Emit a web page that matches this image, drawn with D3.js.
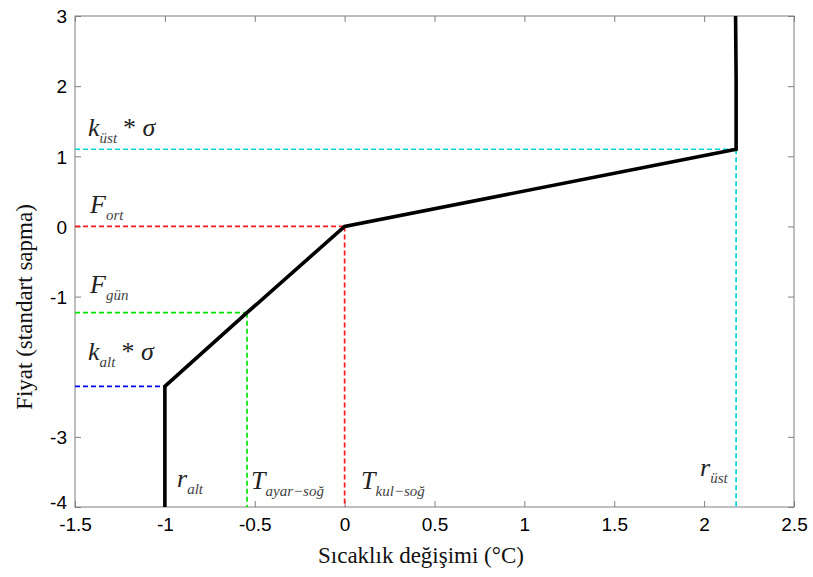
<!DOCTYPE html>
<html>
<head>
<meta charset="utf-8">
<script src="https://cdn.jsdelivr.net/npm/d3@7"></script>
<style>
body{margin:0;background:#fff;}
svg{display:block;}
</style>
</head>
<body>
<div id="chart"></div>
<script>
var W = 813, H = 577;
var margin = {left:75, right:19, top:16, bottom:70};

// data
var xTicks = [-1.5, -1, -0.5, 0, 0.5, 1, 1.5, 2, 2.5];
var yTicks = [-4, -3, -1, 0, 1, 2, 3];
var curveX = [-1, -1, -0.543, 0, 2.178, 2.178, 2.175];
var curveY = [-4, -2.28, -1.23, 0, 1.1, 2.1, 3];
// guide lines: level y, x where it meets the curve, colour
var guideY = [0, -1.23, -2.28, 1.1];
var guideX = [0, -0.543, -1, 2.178];
var guideDrop = [true, true, false, true];
var guideColor = ["#ff1a1a", "#00e600", "#0000ff", "#00d5d5"];

var svg = d3.select("#chart").append("svg")
    .attr("width", W).attr("height", H);

var x = d3.scaleLinear().domain([-1.5, 2.5]).range([margin.left, W - margin.right]);
var y = d3.scaleLinear().domain([-4, 3]).range([H - margin.bottom, margin.top]);

var axisCol = "#808080";

// box
svg.append("rect")
    .attr("x", x(-1.5)).attr("y", y(3))
    .attr("width", x(2.5) - x(-1.5)).attr("height", y(-4) - y(3))
    .attr("fill", "none").attr("stroke", axisCol).attr("stroke-width", 1);

// axes (ticks point inward, mirrored on top/right)
var fmt = function(d){ return String(d); };
var gx = svg.append("g").attr("transform", "translate(0," + y(-4) + ")")
    .call(d3.axisBottom(x).tickValues(xTicks).tickFormat(fmt).tickSize(-6).tickPadding(11));
var gxt = svg.append("g").attr("transform", "translate(0," + y(3) + ")")
    .call(d3.axisTop(x).tickValues(xTicks).tickFormat("").tickSize(-6));
var gy = svg.append("g").attr("transform", "translate(" + x(-1.5) + ",0)")
    .call(d3.axisLeft(y).tickValues(yTicks).tickFormat(fmt).tickSize(-6).tickPadding(8));
var gyr = svg.append("g").attr("transform", "translate(" + x(2.5) + ",0)")
    .call(d3.axisRight(y).tickValues(yTicks).tickFormat("").tickSize(-6));

[gx, gxt, gy, gyr].forEach(function(g){
    g.select(".domain").remove();
    g.selectAll(".tick line").attr("stroke", axisCol);
    g.selectAll(".tick text")
        .attr("fill", "#000")
        .style("font-family", "'Liberation Sans', Arial, sans-serif")
        .style("font-size", "19px");
});
gy.selectAll(".tick text").attr("dy", function(d){ return d === -4 ? "0.1em" : "0.36em"; });

// dashed guides
guideY.forEach(function(v, i){
    svg.append("line")
        .attr("x1", x(-1.5)).attr("x2", x(guideX[i]))
        .attr("y1", y(v)).attr("y2", y(v))
        .attr("stroke", guideColor[i]).attr("stroke-width", 1.7)
        .attr("stroke-dasharray", "5,3");
    if (guideDrop[i]) {
        svg.append("line")
            .attr("x1", x(guideX[i])).attr("x2", x(guideX[i]))
            .attr("y1", y(v)).attr("y2", y(-4))
            .attr("stroke", guideColor[i]).attr("stroke-width", 1.7)
            .attr("stroke-dasharray", "5,3");
    }
});

// main curve
var pts = curveX.map(function(d, i){ return [d, curveY[i]]; });
svg.append("path")
    .datum(pts)
    .attr("d", d3.line().x(function(d){ return x(d[0]); }).y(function(d){ return y(d[1]); }))
    .attr("fill", "none").attr("stroke", "#000")
    .attr("stroke-width", 3.6).attr("stroke-linejoin", "miter");

// math labels
var serif = "'Liberation Serif', 'Times New Roman', serif";
function label(px, py, main, sub, tail, subSize) {
    var t = svg.append("text")
        .attr("x", px).attr("y", py)
        .style("font-family", serif).style("font-style", "italic")
        .style("font-size", "26px").attr("fill", "#222");
    t.append("tspan").text(main);
    t.append("tspan").attr("dy", 7).style("font-size", (subSize || 15) + "px").attr("fill", "#444").text(sub);
    if (tail) t.append("tspan").attr("dy", -7).attr("dx", 6).style("font-style", "normal").text("* ").append("tspan").style("font-style", "italic").text("σ");
}
label(88, 136, "k", "üst", true);
label(90, 213, "F", "ort");
label(90, 293, "F", "gün");
label(88, 360, "k", "alt", true);
label(177, 487, "r", "alt");
label(251, 489, "T", "ayar−soğ");
label(361, 489, "T", "kul−soğ");
label(700, 476, "r", "üst");

// axis titles
svg.append("text")
    .attr("x", 421).attr("y", 563)
    .attr("text-anchor", "middle")
    .style("font-family", serif).style("font-size", "23px").attr("fill", "#111")
    .text("Sıcaklık değişimi (°C)");
svg.append("text")
    .attr("transform", "translate(32,307) rotate(-90)")
    .attr("text-anchor", "middle")
    .style("font-family", serif).style("font-size", "23px").attr("fill", "#111")
    .text("Fiyat (standart sapma)");
</script>
</body>
</html>
